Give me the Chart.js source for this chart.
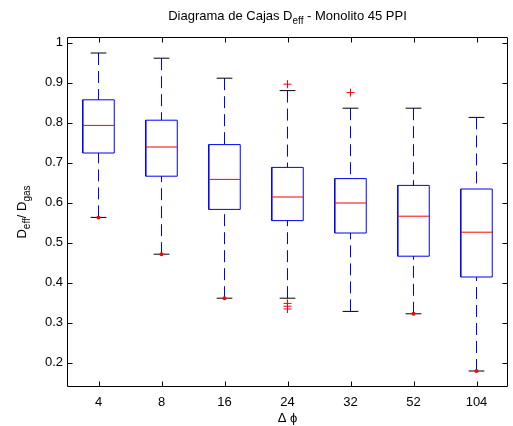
<!DOCTYPE html>
<html>
<head>
<meta charset="utf-8">
<script src="https://cdn.jsdelivr.net/npm/chart.js@4/dist/chart.umd.min.js"></script>
<style>
  html, body { margin: 0; padding: 0; background: #ffffff; }
  #caja { width: 513px; height: 426px; }
</style>
</head>
<body>
<div id="caja"><canvas id="grafico" width="513" height="426"></canvas></div>
<script>
// Categorías del eje x (Δϕ)
const categorias = ['4', '8', '16', '24', '32', '52', '104'];

// Estadísticos de cada caja (Deff / Dgas)
const bigoteSup = [0.974, 0.961, 0.911, 0.880, 0.836, 0.836, 0.813];
const cuartil3  = [0.857, 0.806, 0.745, 0.688, 0.660, 0.643, 0.634];
const mediana   = [0.793, 0.739, 0.658, 0.614, 0.599, 0.566, 0.526];
const cuartil1  = [0.724, 0.666, 0.583, 0.555, 0.524, 0.466, 0.414];
const bigoteInf = [0.563, 0.471, 0.361, 0.361, 0.328, 0.322, 0.179];

// Valores atípicos (+) y puntos extremos marcados
const atipicos = [[], [], [], [0.896, 0.348, 0.341, 0.334], [0.875], [], []];
const extremos = [0.563, 0.471, 0.361, null, null, 0.322, 0.179];

// Marcas del eje y
const marcasY = [0.2, 0.3, 0.4, 0.5, 0.6, 0.7, 0.8, 0.9, 1];

const AZUL = '#0000ff';
const ROJO = '#ff0000';
const FUENTE = '"Liberation Sans", Arial, Helvetica, sans-serif';
const TAM = 13;

const medioAncho = 0.25;   // media anchura de la caja (unidades del eje x)
const medioTope = 0.125;   // media anchura de los topes de los bigotes

const posiciones = categorias.map((_, i) => i + 1);

const corte = (x) => ({ x: x, y: null });

const bigotes = [];
const cajas = [];
const medianas = [];
const topes = [];
const puntosAtipicos = [];
const puntosExtremos = [];

posiciones.forEach((x, i) => {
  bigotes.push({ x, y: bigoteSup[i] }, { x, y: cuartil3[i] }, corte(x),
               { x, y: bigoteInf[i] }, { x, y: cuartil1[i] }, corte(x));
  cajas.push({ x: x - medioAncho, y: cuartil1[i] }, { x: x + medioAncho, y: cuartil1[i] },
             { x: x + medioAncho, y: cuartil3[i] }, { x: x - medioAncho, y: cuartil3[i] },
             { x: x - medioAncho, y: cuartil1[i] }, corte(x));
  medianas.push({ x: x - medioAncho, y: mediana[i] }, { x: x + medioAncho, y: mediana[i] }, corte(x));
  topes.push({ x: x - medioTope, y: bigoteSup[i] }, { x: x + medioTope, y: bigoteSup[i] }, corte(x),
             { x: x - medioTope, y: bigoteInf[i] }, { x: x + medioTope, y: bigoteInf[i] }, corte(x));
  atipicos[i].forEach(v => puntosAtipicos.push({ x, y: v }));
  if (extremos[i] !== null) puntosExtremos.push({ x, y: extremos[i] });
});

const linea = (datos, color, extra) => Object.assign({
  data: datos,
  showLine: true,
  borderColor: color,
  backgroundColor: color,
  borderWidth: 1,
  pointRadius: 0,
  pointHoverRadius: 0,
  tension: 0,
  spanGaps: false,
  fill: false
}, extra || {});

// Texto con subíndices: [{t, sub}]
function anchoRico(ctx, partes, tam) {
  let w = 0;
  partes.forEach(p => {
    ctx.font = (p.sub ? Math.round(tam * 0.77) : tam) + 'px ' + FUENTE;
    w += ctx.measureText(p.t).width;
  });
  return w;
}
function textoRico(ctx, partes, x, y, tam) {
  let cx = x;
  partes.forEach(p => {
    ctx.font = (p.sub ? Math.round(tam * 0.77) : tam) + 'px ' + FUENTE;
    ctx.fillText(p.t, cx, p.sub ? y + tam * 0.33 : y);
    cx += ctx.measureText(p.t).width;
  });
}

const titulo = [
  { t: 'Diagrama de Cajas D' }, { t: 'eff', sub: true }, { t: ' - Monolito 45 PPI' }
];
const tituloY = [
  { t: 'D' }, { t: 'eff', sub: true }, { t: '/ D' }, { t: 'gas', sub: true }
];

// Marco, marcas interiores y rótulos con subíndices
const decorado = {
  id: 'decorado',
  afterDraw(chart) {
    const ctx = chart.ctx;
    const a = chart.chartArea;
    const sx = chart.scales.x, sy = chart.scales.y;
    const L = Math.round(a.left) + 0.5, R = Math.round(a.right) - 0.5;
    const T = Math.round(a.top) + 0.5, B = Math.round(a.bottom) - 0.5;
    const largo = 5;
    ctx.save();
    ctx.strokeStyle = '#000000';
    ctx.lineWidth = 1;
    ctx.beginPath();
    ctx.rect(L, T, R - L, B - T);
    sx.ticks.forEach(t => {
      const px = Math.round(sx.getPixelForValue(t.value)) + 0.5;
      ctx.moveTo(px, B); ctx.lineTo(px, B - largo);
      ctx.moveTo(px, T); ctx.lineTo(px, T + largo);
    });
    sy.ticks.forEach(t => {
      const py = Math.round(sy.getPixelForValue(t.value)) + 0.5;
      ctx.moveTo(L, py); ctx.lineTo(L + largo, py);
      ctx.moveTo(R, py); ctx.lineTo(R - largo, py);
    });
    ctx.stroke();

    ctx.fillStyle = '#000000';
    ctx.textBaseline = 'alphabetic';
    ctx.textAlign = 'left';
    const wt = anchoRico(ctx, titulo, TAM);
    textoRico(ctx, titulo, (a.left + a.right) / 2 - wt / 2, 19.5, TAM);

    const wy = anchoRico(ctx, tituloY, TAM);
    ctx.translate(25.5, (a.top + a.bottom) / 2);
    ctx.rotate(-Math.PI / 2);
    textoRico(ctx, tituloY, -wy / 2, 0, TAM);
    ctx.restore();
  }
};

new Chart(document.getElementById('grafico'), {
  type: 'scatter',
  data: {
    datasets: [
      linea(puntosAtipicos, ROJO, { showLine: false, pointStyle: 'cross', pointRadius: 4, borderWidth: 1, order: 0 }),
      linea(puntosExtremos, ROJO, { showLine: false, pointStyle: 'circle', pointRadius: 2, borderWidth: 0, order: 1 }),
      linea(medianas, ROJO, { order: 2 }),
      linea(topes, '#000000', { order: 3 }),
      linea(cajas, AZUL, { order: 4 }),
      linea(bigotes, AZUL, { borderDash: [12, 6], order: 5 })
    ]
  },
  options: {
    responsive: false,
    devicePixelRatio: 1,
    animation: false,
    events: [],
    layout: { padding: { top: 37, right: 1, bottom: 0, left: 0 } },
    plugins: {
      legend: { display: false },
      title: { display: false },
      tooltip: { enabled: false }
    },
    scales: {
      x: {
        type: 'linear',
        min: 0.5,
        max: 7.5,
        afterBuildTicks: (s) => { s.ticks = posiciones.map(v => ({ value: v })); },
        afterFit: (s) => { s.height = 39; },
        grid: { display: false, drawTicks: false },
        border: { display: false },
        ticks: {
          padding: 8,
          color: '#000000',
          font: { family: FUENTE, size: TAM },
          autoSkip: false,
          maxRotation: 0,
          callback: (v) => categorias[Math.round(v) - 1]
        },
        title: {
          display: true,
          text: 'Δ ϕ',
          color: '#000000',
          font: { family: FUENTE, size: TAM },
          padding: { top: 0, bottom: 0 }
        }
      },
      y: {
        type: 'linear',
        min: 0.139,
        max: 1.014,
        afterBuildTicks: (s) => { s.ticks = marcasY.map(v => ({ value: v })); },
        afterFit: (s) => { s.width = 67; },
        grid: { display: false, drawTicks: false },
        border: { display: false },
        ticks: {
          padding: 4,
          color: '#000000',
          font: { family: FUENTE, size: TAM },
          callback: (v) => String(Math.round(v * 10) / 10)
        }
      }
    }
  },
  plugins: [decorado]
});
</script>
</body>
</html>
